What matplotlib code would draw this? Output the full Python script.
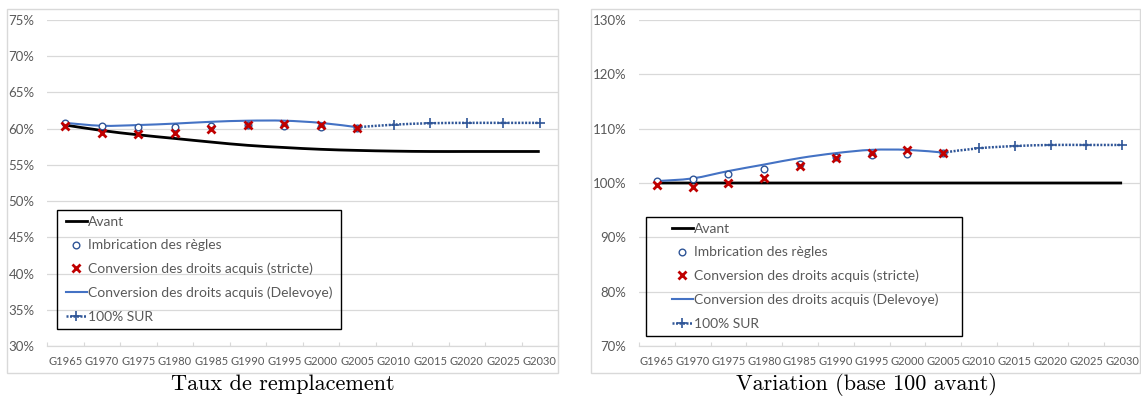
import numpy as np
import matplotlib

matplotlib.use("Agg")
import matplotlib.pyplot as plt
from matplotlib.lines import Line2D
from matplotlib.patches import PathPatch, Rectangle
from matplotlib.path import Path
from matplotlib.ticker import FixedLocator, FuncFormatter

GENERATIONS = ["G1965", "G1970", "G1975", "G1980", "G1985", "G1990", "G1995",
               "G2000", "G2005", "G2010", "G2015", "G2020", "G2025", "G2030"]
nan = np.nan

# Taux de remplacement (%)
taux_avant = [60.5, 59.75, 59.15, 58.65, 58.15, 57.7, 57.4, 57.15, 57.0, 56.9, 56.85, 56.85, 56.85, 56.85]
taux_imbrication = [60.85, 60.4, 60.2, 60.25, 60.3, 60.55, 60.3, 60.25, 60.15, nan, nan, nan, nan, nan]
taux_stricte = [60.3, 59.4, 59.25, 59.35, 60.0, 60.55, 60.7, 60.55, 60.15, nan, nan, nan, nan, nan]
taux_delevoye = [60.8, 60.4, 60.5, 60.7, 60.95, 61.1, 61.1, 60.8, 60.2, nan, nan, nan, nan, nan]
taux_sur = [nan, nan, nan, nan, nan, nan, nan, nan, 60.2, 60.55, 60.75, 60.8, 60.8, 60.8]

# Variation, base 100 avant (%)
var_avant = [100.0] * 14
var_imbrication = [100.35, 100.8, 101.6, 102.55, 103.45, 104.75, 105.15, 105.4, 105.6, nan, nan, nan, nan, nan]
var_stricte = [99.7, 99.35, 100.0, 101.0, 103.1, 104.55, 105.6, 106.0, 105.6, nan, nan, nan, nan, nan]
var_delevoye = [100.35, 100.85, 102.2, 103.4, 104.6, 105.5, 106.1, 106.1, 105.6, nan, nan, nan, nan, nan]
var_sur = [nan, nan, nan, nan, nan, nan, nan, nan, 105.6, 106.4, 106.8, 107.0, 107.0, 107.0]

LABELS = ["Avant", "Imbrication des règles", "Conversion des droits acquis (stricte)",
          "Conversion des droits acquis (Delevoye)", "100% SUR"]

GRID = "#D9D9D9"
TEXT = "#595959"
BLUE = "#4472C4"
DARK_BLUE = "#2F5597"
RED = "#C00000"
W, H = 1141, 396

plt.rcParams["font.family"] = ["Lato", "DejaVu Sans"]


def smooth_path(values):
    """Excel-like smoothed line (Catmull-Rom as cubic Bezier)."""
    y = np.asarray(values, dtype=float)
    x = np.arange(len(y), dtype=float)
    ok = ~np.isnan(y)
    pts = np.column_stack([x[ok], y[ok]])
    n = len(pts)
    verts = [pts[0]]
    codes = [Path.MOVETO]
    for i in range(n - 1):
        p0 = pts[max(i - 1, 0)]
        p1, p2 = pts[i], pts[i + 1]
        p3 = pts[min(i + 2, n - 1)]
        verts += [p1 + (p2 - p0) / 6, p2 - (p3 - p1) / 6, p2]
        codes += [Path.CURVE4] * 3
    return Path(verts, codes)


def fig_box(fig, x0, y0, x1, y1, color, lw):
    fig.add_artist(Rectangle((x0 / W, 1 - y1 / H), (x1 - x0) / W, (y1 - y0) / H,
                             transform=fig.transFigure, fill=False,
                             edgecolor=color, linewidth=lw))


def draw_panel(ax, avant, imbr, stricte, delev, sur, yticks):
    x = np.arange(len(GENERATIONS))
    sur_dash = (0, (0.8, 0.6))
    ax.add_patch(PathPatch(smooth_path(avant), fill=False, edgecolor="black", lw=2.0, zorder=3))
    ax.add_patch(PathPatch(smooth_path(delev), fill=False, edgecolor=BLUE, lw=1.5, zorder=4))
    ax.add_patch(PathPatch(smooth_path(sur), fill=False, edgecolor=DARK_BLUE, lw=1.8,
                           linestyle=sur_dash, zorder=4))
    ax.plot(x[9:], np.asarray(sur)[9:], ls="none", marker="+", ms=7, mew=1.2,
            color=DARK_BLUE, zorder=5)
    ax.plot(x, imbr, ls="none", marker="o", ms=4.8, mfc="white", mec=DARK_BLUE,
            mew=1.0, zorder=6)
    ax.plot(x, stricte, ls="none", marker="x", ms=6, mew=2.0, color=RED, zorder=7)

    ax.set_xlim(-0.5, len(GENERATIONS) - 0.5)
    ax.set_ylim(yticks[0], yticks[-1])
    ax.yaxis.set_major_locator(FixedLocator(yticks))
    ax.yaxis.set_major_formatter(FuncFormatter(lambda v, _: f"{v:.0f}%"))
    ax.set_xticks(x)
    ax.set_xticklabels(GENERATIONS)
    ax.xaxis.set_minor_locator(FixedLocator(np.arange(-0.5, len(GENERATIONS), 1.0)))
    ax.tick_params(axis="x", which="major", length=0, labelsize=8, labelcolor=TEXT, pad=7)
    ax.tick_params(axis="x", which="minor", direction="in", length=3, color=GRID, width=0.8)
    ax.tick_params(axis="y", length=0, labelsize=9.5, labelcolor=TEXT, pad=9)
    ax.grid(axis="y", color=GRID, lw=0.9)
    ax.set_axisbelow(True)
    for side in ("top", "right", "left"):
        ax.spines[side].set_visible(False)
    ax.spines["bottom"].set_color(GRID)
    ax.spines["bottom"].set_linewidth(0.9)

    handles = [
        Line2D([], [], color="black", lw=2.0),
        Line2D([], [], ls="none", marker="o", ms=4.8, mfc="white", mec=DARK_BLUE, mew=1.0),
        Line2D([], [], ls="none", marker="x", ms=6, mew=2.0, color=RED),
        Line2D([], [], color=BLUE, lw=1.5),
        Line2D([], [], color=DARK_BLUE, lw=1.8, ls=sur_dash, marker="+", ms=7, mew=1.2),
    ]
    return handles


fig = plt.figure(figsize=(W / 100, H / 100), dpi=100)
fig.patch.set_facecolor("white")

ax1 = fig.add_axes([47 / W, 1 - 346 / H, 511 / W, 326 / H])
ax2 = fig.add_axes([639 / W, 1 - 346 / H, 501 / W, 326 / H])

h1 = draw_panel(ax1, taux_avant, taux_imbrication, taux_stricte, taux_delevoye, taux_sur,
                list(range(30, 80, 5)))
h2 = draw_panel(ax2, var_avant, var_imbrication, var_stricte, var_delevoye, var_sur,
                list(range(70, 140, 10)))

# chart area frames
fig_box(fig, 7, 9, 558, 373, GRID, 1.0)
fig_box(fig, 591, 9, 1140, 373, GRID, 1.0)

# legends with a plain black box
legend_kw = dict(frameon=False, fontsize=10, labelcolor=TEXT, handlelength=1.5,
                 handletextpad=0.05, labelspacing=0.82, borderpad=0, borderaxespad=0,
                 numpoints=1, loc="upper left", bbox_transform=fig.transFigure)
ax1.legend(h1, LABELS, bbox_to_anchor=(66 / W, 1 - 216 / H), **legend_kw)
ax2.legend(h2, LABELS, bbox_to_anchor=(672 / W, 1 - 223 / H), **legend_kw)
fig_box(fig, 57, 210, 341, 329, "black", 1.0)
fig_box(fig, 646, 217, 962, 336, "black", 1.0)

fig.text(283 / W, 1 - 384 / H, "Taux de remplacement", family="cmr10",
         fontsize=16, ha="center", va="center")
fig.text(867 / W, 1 - 384 / H, "Variation (base 100 avant)", family="cmr10",
         fontsize=16, ha="center", va="center")

fig.savefig("out.png", dpi=100)
